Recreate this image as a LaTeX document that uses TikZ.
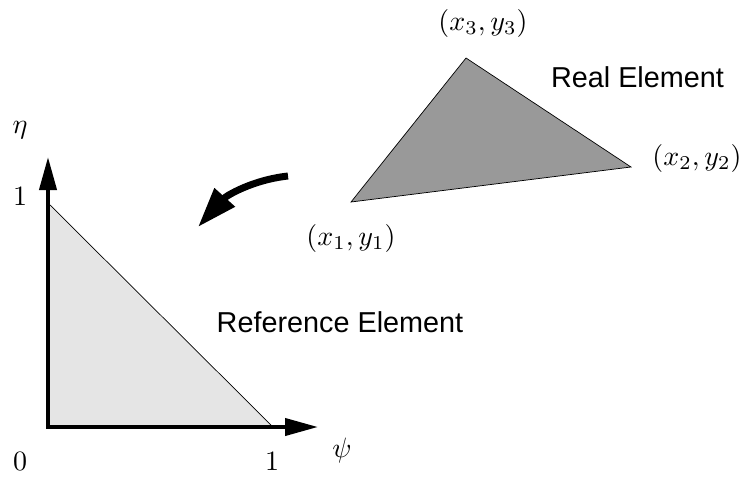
\documentclass[tikz,border=0pt]{standalone}
\usepackage{fontspec}
\newfontfamily\arialfont{Liberation Sans}
\usetikzlibrary{arrows.meta}
\begin{document}
\begin{tikzpicture}[x=1pt,y=-1pt,
  lbl/.style={inner sep=0pt,font=\fontsize{10}{12}\selectfont,scale=2.8},
  sflbl/.style={inner sep=0pt,font=\arialfont\fontsize{28.8}{33}\selectfont},
  axis/.style={line width=4pt,{Triangle[length=33pt,width=17pt]}-{Triangle[length=33pt,width=17pt]}},
  bigarrow/.style={line width=7pt,-{Triangle[length=40pt,width=26pt]}}]
\path[use as bounding box] (0,0) rectangle (746,477);
% reference element
\coordinate (O) at (48,427);
\coordinate (E) at (48,203);
\coordinate (P) at (273,427);
\coordinate (Ytip) at (48,157);
\coordinate (Xtip) at (318,427);
\fill[black!10] (O) -- (E) -- (P) -- cycle;
\draw[line width=0.7pt] (E) -- (P);
\draw[axis] (Ytip) -- (O) -- (Xtip);
% real element
\coordinate (A) at (351,202);
\coordinate (B) at (631,167);
\coordinate (C) at (466,58);
\filldraw[fill=black!40,draw=black,line width=0.7pt] (A) -- (B) -- (C) -- cycle;
% labels
\node[lbl] (eta) at (20,130) {$\eta$};
\node[lbl] (one1) at (20,196) {$1$};
\node[lbl] (zero) at (20,461) {$0$};
\node[lbl] (one2) at (272,461) {$1$};
\node[lbl] (psi) at (342,450) {$\psi$};
\node[lbl] (l3) at (483,23) {$(x_3,y_3)$};
\node[lbl] (l2) at (697,158) {$(x_2,y_2)$};
\node[lbl] (l1) at (351,238) {$(x_1,y_1)$};
\node[sflbl] (real) at (637.5,77) {Real Element};
\node[sflbl] (ref) at (340,322) {Reference Element};
% mapping arrow
\coordinate (s) at (288,176);
\coordinate (t) at (198,227);
\draw[bigarrow] (s) .. controls (252,180) and (226,196) .. (t);
\end{tikzpicture}
\end{document}
